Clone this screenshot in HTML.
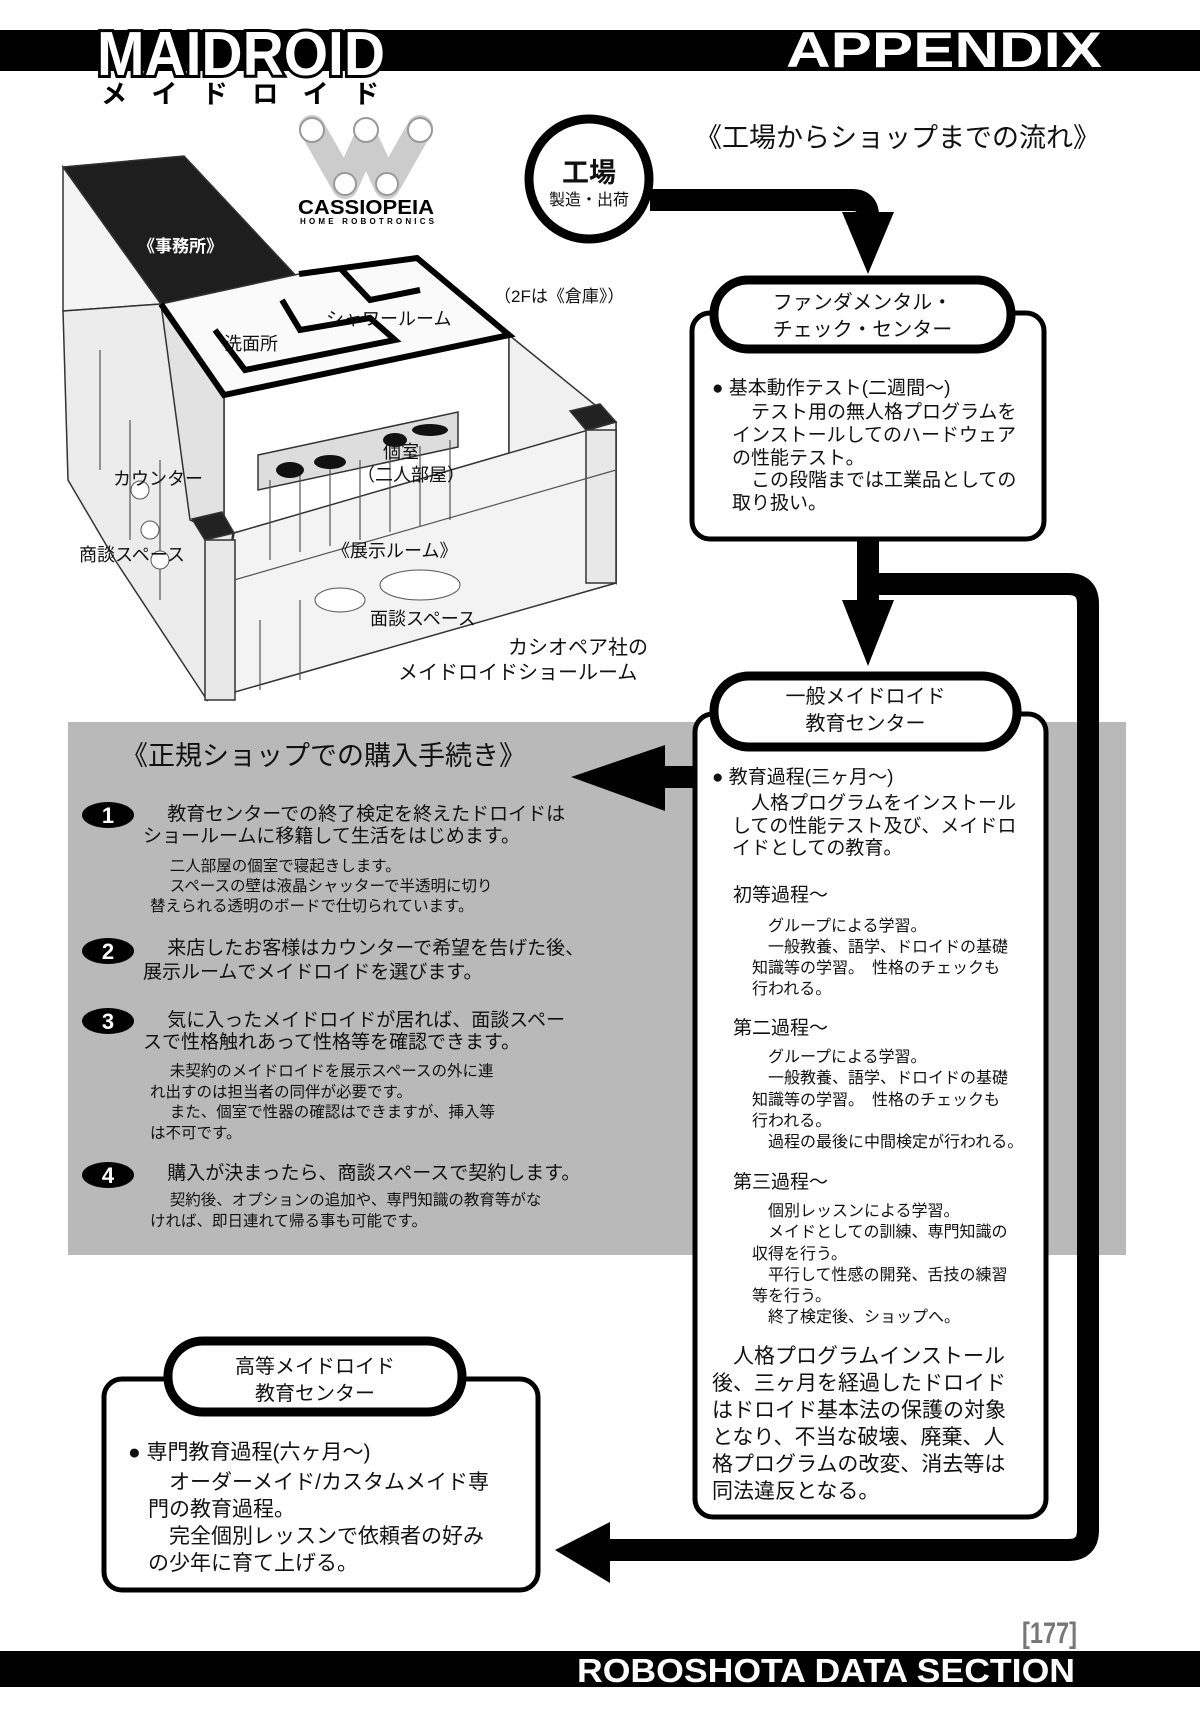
<!DOCTYPE html>
<html><head><meta charset="utf-8"><style>
html,body{margin:0;padding:0;background:#fff}
body{width:1200px;height:1723px;position:relative;overflow:hidden;font-family:"Liberation Sans","Noto Sans CJK JP",sans-serif;color:#111}
.t{position:absolute;white-space:nowrap;line-height:1}
.b{font-weight:bold}
.c{text-align:center}
</style></head><body>
<svg width="1200" height="1723" style="position:absolute;left:0;top:0" xmlns="http://www.w3.org/2000/svg">
<!-- top bar -->
<rect x="0" y="30" width="1200" height="41" fill="#000"/>
<text x="97" y="75" font-family="Liberation Sans" font-weight="bold" font-size="62" textLength="288" lengthAdjust="spacingAndGlyphs" fill="#fff" stroke="#000" stroke-width="6" paint-order="stroke">MAIDROID</text>
<text x="101" y="103" font-family="Noto Sans CJK JP" font-weight="bold" font-size="26" textLength="278" lengthAdjust="spacing" fill="#000">メイドロイド</text>
<text x="786" y="67" font-family="Liberation Sans" font-weight="bold" font-size="50" textLength="316" lengthAdjust="spacingAndGlyphs" fill="#fff">APPENDIX</text>
<!-- bottom bar -->
<rect x="0" y="1651" width="1200" height="36" fill="#000"/>
<text x="577" y="1682" font-family="Liberation Sans" font-weight="bold" font-size="33" textLength="498" lengthAdjust="spacingAndGlyphs" fill="#fff">ROBOSHOTA DATA SECTION</text>
<text x="1022" y="1643" font-family="Liberation Sans" font-weight="bold" font-size="30" textLength="55" lengthAdjust="spacingAndGlyphs" fill="#777">[177]</text>

<!-- Cassiopeia logo -->
<g stroke="#999" stroke-width="2">
<path d="M312,128 L345,186 L366,140 L387,186 L420,128" fill="none" stroke="#ccc" stroke-width="26" stroke-linecap="round" stroke-linejoin="round"/>
<circle cx="312" cy="130" r="12" fill="#fff"/><circle cx="366" cy="130" r="12" fill="#fff"/><circle cx="420" cy="130" r="12" fill="#fff"/>
<circle cx="345" cy="184" r="11" fill="#fff"/><circle cx="387" cy="184" r="11" fill="#fff"/>
</g>
<text x="298" y="214" font-family="Liberation Sans" font-weight="bold" font-size="20" textLength="136" lengthAdjust="spacingAndGlyphs">CASSIOPEIA</text>
<text x="300" y="224" font-family="Liberation Sans" font-weight="bold" font-size="8" textLength="134" lengthAdjust="spacing">HOME ROBOTRONICS</text>

<!-- building -->
<g stroke="#333" stroke-width="1.5">
<polygon points="63,167 161,304 63,311" fill="#f4f4f4"/>
<polygon points="63,311 161,304 235,520 207,700 115,560 68,480" fill="#ececec"/>
<polygon points="63,167 184,156 329,311 314,317 281,285 161,304" fill="#1e1e1e"/>
<polygon points="161,304 299,274 417,258 509,335 224,395" fill="#fafafa"/>
<polygon points="224,395 509,335 509,470 224,535" fill="#fff"/>
<polygon points="161,304 224,395 224,535 190,520" fill="#e2e2e2"/>
<polygon points="509,335 616,422 616,583 509,470" fill="#f0f0f0"/>
<polygon points="234,533 616,422 616,583 207,700" fill="#f3f3f3"/>
<polygon points="258,455 458,412 458,447 258,490" fill="#ddd"/>
<polygon points="192,519 222,512 234,533 205,540" fill="#222"/>
<polygon points="570,411 600,404 616,422 586,430" fill="#222"/>
<rect x="205" y="540" width="30" height="160" fill="#e8e8e8"/>
<rect x="586" y="430" width="30" height="153" fill="#e8e8e8"/>
</g>
<g fill="none" stroke="#000" stroke-width="6">
<path d="M161,304 L224,395 L509,335 L417,258 L299,274"/>
<path d="M215,330 L245,370 L395,340 L370,318 L300,330 L282,300"/>
<path d="M340,268 L370,300 L420,290"/>
</g>
<g stroke="#555" stroke-width="1.2" fill="none">
<path d="M270,480 L270,560 M300,472 L300,552 M330,466 L330,546 M360,460 L360,540 M390,452 L390,532 M420,446 L420,526 M450,440 L450,520"/>
<path d="M100,350 L100,470 M130,420 L130,540 M160,460 L160,600 M300,600 L300,680 M260,620 L260,690"/>
<path d="M234,580 L616,470"/>
</g>
<g fill="#111"><ellipse cx="290" cy="470" rx="14" ry="8"/><ellipse cx="330" cy="462" rx="16" ry="7"/><ellipse cx="395" cy="440" rx="12" ry="7"/><ellipse cx="430" cy="430" rx="18" ry="6"/></g>
<g fill="#fff" stroke="#555"><ellipse cx="420" cy="585" rx="40" ry="15"/><ellipse cx="340" cy="600" rx="25" ry="12"/><circle cx="140" cy="490" r="9"/><circle cx="150" cy="530" r="9"/><circle cx="160" cy="560" r="9"/></g>

<!-- factory circle -->
<circle cx="589" cy="179" r="60" fill="#fff" stroke="#000" stroke-width="9"/>
<!-- connector 1 -->
<path d="M650,200 H852 Q868,200 868,216 V222" fill="none" stroke="#000" stroke-width="22"/>
<polygon points="842,212 894,212 868,274" fill="#000"/>

<!-- gray panel -->
<rect x="68" y="722" width="1058" height="533" fill="#b9b9b9"/>

<!-- connector 2 and loop -->
<path d="M868,539 V610" stroke="#000" stroke-width="22" fill="none"/>
<polygon points="842,600 894,600 868,666" fill="#000"/>
<path d="M868,584 H1068 Q1088,584 1088,604 V1530 Q1088,1550 1068,1550 H605" stroke="#000" stroke-width="22" fill="none"/>
<polygon points="610,1522 610,1583 555,1550" fill="#000"/>

<!-- left arrow -->
<rect x="660" y="766" width="40" height="22" fill="#000"/>
<polygon points="665,745 665,811 571,777" fill="#000"/>

<!-- boxes -->
<rect x="692" y="313" width="352" height="226" rx="18" fill="#fff" stroke="#000" stroke-width="5"/>
<rect x="714" y="280" width="297" height="69" rx="34" fill="#fff" stroke="#000" stroke-width="9"/>
<rect x="695" y="714" width="351" height="803" rx="18" fill="#fff" stroke="#000" stroke-width="5"/>
<rect x="714" y="676" width="303" height="71" rx="35" fill="#fff" stroke="#000" stroke-width="9"/>
<rect x="104" y="1379" width="434" height="211" rx="18" fill="#fff" stroke="#000" stroke-width="5"/>
<rect x="168" y="1341" width="294" height="71" rx="35" fill="#fff" stroke="#000" stroke-width="9"/>

<!-- number badges -->
<g fill="#000"><ellipse cx="108" cy="815" rx="26" ry="13"/><ellipse cx="108" cy="951" rx="26" ry="13"/><ellipse cx="108" cy="1021" rx="26" ry="13"/><ellipse cx="108" cy="1175" rx="26" ry="13"/></g>
<g fill="#fff" font-family="Liberation Sans" font-weight="bold" font-size="22" text-anchor="middle"><text x="108" y="823">1</text><text x="108" y="959">2</text><text x="108" y="1029">3</text><text x="108" y="1183">4</text></g>
</svg>

<!-- factory text -->
<div class="t b c" style="left:549px;top:160px;width:80px;font-size:27px">工場</div>
<div class="t c" style="left:539px;top:193px;width:100px;font-size:16px">製造・出荷</div>
<div class="t" style="left:695px;top:125px;font-size:27px">《工場からショップまでの流れ》</div>

<!-- building labels -->
<div class="t b" style="left:138px;top:238px;font-size:17px;color:#fff">《事務所》</div>
<div class="t" style="left:494px;top:288px;font-size:17px">（2Fは《倉庫》）</div>
<div class="t" style="left:326px;top:310px;font-size:18px">シャワールーム</div>
<div class="t" style="left:224px;top:335px;font-size:18px">洗面所</div>
<div class="t" style="left:383px;top:443px;font-size:18px">個室</div>
<div class="t" style="left:357px;top:466px;font-size:18px">（二人部屋）</div>
<div class="t" style="left:113px;top:470px;font-size:18px">カウンター</div>
<div class="t" style="left:79px;top:546px;font-size:18px">商談スペース</div>
<div class="t" style="left:332px;top:542px;font-size:18px">《展示ルーム》</div>
<div class="t" style="left:370px;top:610px;font-size:18px">面談スペース</div>
<div class="t" style="left:508px;top:638px;font-size:20px">カシオペア社の</div>
<div class="t" style="left:398px;top:663px;font-size:20px">メイドロイドショールーム</div>

<!-- fundamental -->
<div class="t c" style="left:714px;top:293px;width:297px;font-size:20px">ファンダメンタル・</div>
<div class="t c" style="left:714px;top:320px;width:297px;font-size:20px">チェック・センター</div>
<div class="t" style="left:712px;top:379px;font-size:19px">● 基本動作テスト(二週間～)</div>
<div class="t" style="left:732px;top:402px;font-size:19px;line-height:22.8px">　テスト用の無人格プログラムを<br>インストールしてのハードウェア<br>の性能テスト。<br>　この段階までは工業品としての<br>取り扱い。</div>

<!-- general -->
<div class="t c" style="left:714px;top:687px;width:303px;font-size:20px">一般メイドロイド</div>
<div class="t c" style="left:714px;top:714px;width:303px;font-size:20px">教育センター</div>
<div class="t" style="left:712px;top:768px;font-size:19px">● 教育過程(三ヶ月～)</div>
<div class="t" style="left:732px;top:793px;font-size:19px;line-height:22.5px">　人格プログラムをインストール<br>しての性能テスト及び、メイドロ<br>イドとしての教育。</div>
<div class="t" style="left:733px;top:886px;font-size:19px">初等過程～</div>
<div class="t" style="left:752px;top:916px;font-size:16px;line-height:21px">　グループによる学習。<br>　一般教養、語学、ドロイドの基礎<br>知識等の学習。　性格のチェックも<br>行われる。</div>
<div class="t" style="left:733px;top:1019px;font-size:19px">第二過程～</div>
<div class="t" style="left:752px;top:1047px;font-size:16px;line-height:21.3px">　グループによる学習。<br>　一般教養、語学、ドロイドの基礎<br>知識等の学習。　性格のチェックも<br>行われる。<br>　過程の最後に中間検定が行われる。</div>
<div class="t" style="left:733px;top:1173px;font-size:19px">第三過程～</div>
<div class="t" style="left:752px;top:1201px;font-size:16px;line-height:21.3px">　個別レッスンによる学習。<br>　メイドとしての訓練、専門知識の<br>収得を行う。<br>　平行して性感の開発、舌技の練習<br>等を行う。<br>　終了検定後、ショップへ。</div>
<div class="t" style="left:712px;top:1343px;font-size:21px;line-height:27px">　人格プログラムインストール<br>後、三ヶ月を経過したドロイド<br>はドロイド基本法の保護の対象<br>となり、不当な破壊、廃棄、人<br>格プログラムの改変、消去等は<br>同法違反となる。</div>

<!-- panel -->
<div class="t" style="left:121px;top:743px;font-size:27px">《正規ショップでの購入手続き》</div>
<div class="t" style="left:143px;top:804px;font-size:19px;line-height:22px">　 教育センターでの終了検定を終えたドロイドは<br>ショールームに移籍して生活をはじめます。</div>
<div class="t" style="left:150px;top:857px;font-size:15.5px;line-height:20px">　 二人部屋の個室で寝起きします。<br>　 スペースの壁は液晶シャッターで半透明に切り<br>替えられる透明のボードで仕切られています。</div>
<div class="t" style="left:143px;top:937px;font-size:19px;line-height:24px">　 来店したお客様はカウンターで希望を告げた後、<br>展示ルームでメイドロイドを選びます。</div>
<div class="t" style="left:143px;top:1010px;font-size:19px;line-height:22px">　 気に入ったメイドロイドが居れば、面談スペー<br>スで性格触れあって性格等を確認できます。</div>
<div class="t" style="left:150px;top:1062px;font-size:15.5px;line-height:20.5px">　 未契約のメイドロイドを展示スペースの外に連<br>れ出すのは担当者の同伴が必要です。<br>　 また、個室で性器の確認はできますが、挿入等<br>は不可です。</div>
<div class="t" style="left:143px;top:1164px;font-size:19px">　 購入が決まったら、商談スペースで契約します。</div>
<div class="t" style="left:150px;top:1190px;font-size:15.5px;line-height:21px">　 契約後、オプションの追加や、専門知識の教育等がな<br>ければ、即日連れて帰る事も可能です。</div>

<!-- advanced -->
<div class="t c" style="left:168px;top:1357px;width:294px;font-size:20px">高等メイドロイド</div>
<div class="t c" style="left:168px;top:1384px;width:294px;font-size:20px">教育センター</div>
<div class="t" style="left:128px;top:1442px;font-size:21px">● 専門教育過程(六ヶ月～)</div>
<div class="t" style="left:148px;top:1469px;font-size:21px;line-height:27px">　オーダーメイド/カスタムメイド専<br>門の教育過程。<br>　完全個別レッスンで依頼者の好み<br>の少年に育て上げる。</div>
</body></html>
